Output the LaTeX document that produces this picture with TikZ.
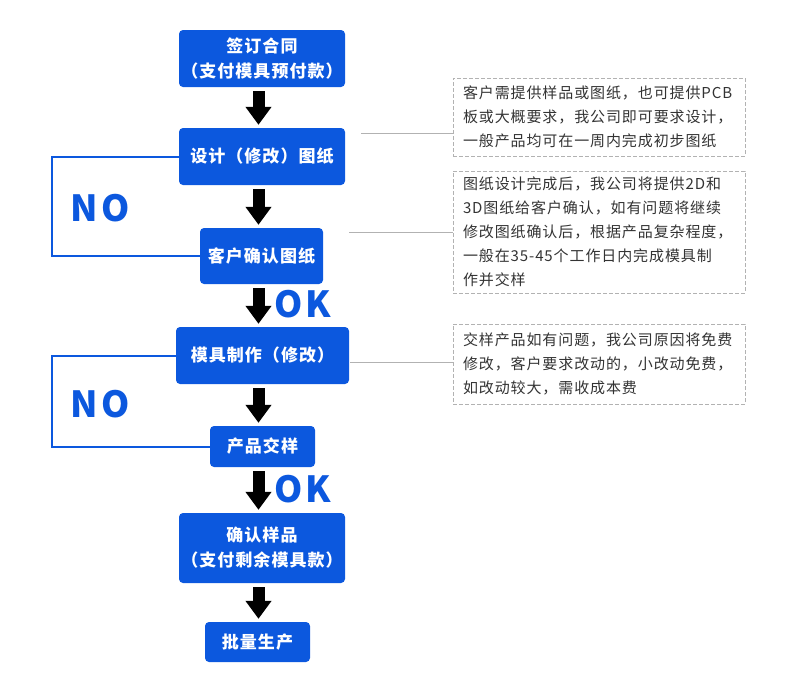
\documentclass[tikz,border=0pt]{standalone}
\usepackage{fontspec}
\setmainfont{Noto Sans CJK SC}
\newfontfamily\boxfont{Noto Sans CJK SC}[LetterSpace=6]
\newfontfamily\notefont{Noto Sans CJK SC}[LetterSpace=6]
\newfontfamily\tagfont{Noto Sans CJK SC}[LetterSpace=8]
\usetikzlibrary{positioning,arrows.meta,calc}
\definecolor{stepblue}{RGB}{12,88,222}

\begin{document}
\begin{tikzpicture}[
  x=1pt, y=-1pt,
  stepbox/.style={
    fill=stepblue, rounded corners=4pt, text=white, align=center,
    font=\boxfont\bfseries\fontsize{17}{25}\selectfont,
    inner sep=0pt, minimum width=166pt, minimum height=57pt
  },
  % thick black arrows between the steps
  flow/.style={line width=12pt, -{Triangle[length=18pt,width=25pt]},
    shorten <=4pt, shorten >=3pt},
  loopline/.style={draw=stepblue, line width=2pt},
  note/.style={
    draw=black!30, dash pattern=on 4pt off 2pt, line width=0.8pt,
    text width=272pt, inner xsep=10pt, inner ysep=0pt, align=left,
    font=\notefont\fontsize{15}{24}\selectfont, text=black!80
  },
  noteline/.style={draw=black!30, line width=1pt},
  tag/.style={text=stepblue, inner sep=0pt,
    font=\tagfont\bfseries\fontsize{36}{36}\selectfont}
]
\useasboundingbox (0,0) rectangle (790,673);

% ---------- Steps ----------
\node[stepbox] (b1) at (262,58.5) {签订合同\\（支付模具预付款）};
\node[stepbox] (b2) at (262,156.5) {设计（修改）图纸};
\node[stepbox, minimum width=123pt, minimum height=56pt] (b3) at (261.5,256) {客户确认图纸};
\node[stepbox, minimum width=173pt] (b4) at (262.5,355.5) {模具制作（修改）};
\node[stepbox, minimum width=105pt, minimum height=41pt] (b5) at (262.5,446.5) {产品交样};
\node[stepbox, minimum height=70pt] (b6) at (262,548) {确认样品\\（支付剩余模具款）};
\node[stepbox, minimum width=105pt, minimum height=40pt] (b7) at (257.5,642) {批量生产};

% ---------- Arrows ----------
\coordinate (axis) at (258.5,0);
\draw[flow] (b1.south -| axis) -- (b2.north -| axis);
\draw[flow] (b2.south -| axis) -- (b3.north -| axis);
\draw[flow] (b3.south -| axis) -- (b4.north -| axis);
\draw[flow] (b4.south -| axis) -- (b5.north -| axis);
\draw[flow] (b5.south -| axis) -- (b6.north -| axis);
\draw[flow] (b6.south -| axis) -- (b7.north -| axis);

% ---------- Loops back (NO) ----------
\coordinate (loopx) at (52,0);
\draw[loopline] (b2.west) -- (b2.west -| loopx) -- (b3.west -| loopx) -- (b3.west);
\draw[loopline] (b4.west) -- (b4.west -| loopx) -- (b5.west -| loopx) -- (b5.west);

\node[tag] (no1) at (100,208) {NO};
\node[tag] (no2) at (100,404) {NO};
\node[tag] (ok1) at (303,304) {OK};
\node[tag] (ok2) at (303,489) {OK};

% ---------- Notes ----------
\node[note, minimum height=78pt] (nA) at (599,117) {%
  客户需提供样品或图纸，也可提供PCB\\
  板或大概要求，我公司即可要求设计，\\
  一般产品均可在一周内完成初步图纸};
\node[note, minimum height=122pt] (nB) at (599,232) {%
  图纸设计完成后，我公司将提供2D和\\
  3D图纸给客户确认，如有问题将继续\\
  修改图纸确认后，根据产品复杂程度，\\
  一般在35-45个工作日内完成模具制\\
  作并交样};
\node[note, minimum height=80pt] (nC) at (599,364) {%
  交样产品如有问题，我公司原因将免费\\
  修改，客户要求改动的，小改动免费，\\
  如改动较大，需收成本费};

\coordinate (ca) at (361,133);
\coordinate (cb) at (349,232);
\coordinate (cc) at (350,362);
\draw[noteline] (ca) -- (ca -| nA.west);
\draw[noteline] (cb) -- (cb -| nB.west);
\draw[noteline] (cc) -- (cc -| nC.west);

\end{tikzpicture}
\end{document}
